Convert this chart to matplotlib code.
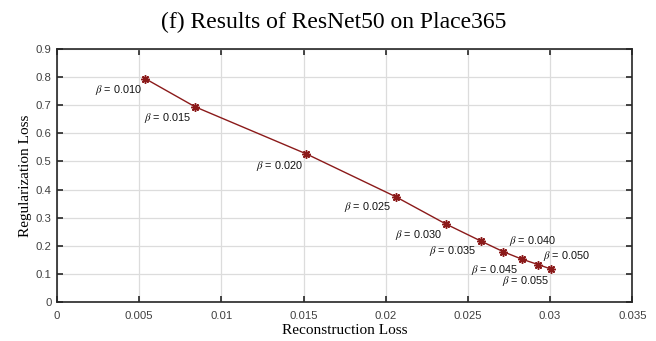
import matplotlib
matplotlib.use("Agg")
import matplotlib.pyplot as plt

recon_loss = [0.00538, 0.0084, 0.01517, 0.0206, 0.02366, 0.02578, 0.02716, 0.02827, 0.02929, 0.03005]
reg_loss = [0.795, 0.695, 0.527, 0.3745, 0.277, 0.2165, 0.178, 0.152, 0.132, 0.1166]
beta_labels = ["0.010", "0.015", "0.020", "0.025", "0.030", "0.035", "0.040", "0.045", "0.050", "0.055"]
label_x = [0.00233, 0.0053, 0.01209, 0.01746, 0.02056, 0.02264, 0.0275, 0.02516, 0.02957, 0.02706]
label_y = [0.755, 0.656, 0.485, 0.3367, 0.238, 0.181, 0.2154, 0.113, 0.162, 0.075]
xticks = [0, 0.005, 0.01, 0.015, 0.02, 0.025, 0.03, 0.035]
xticklabels = ["0", "0.005", "0.01", "0.015", "0.02", "0.025", "0.03", "0.035"]
yticks = [0, 0.1, 0.2, 0.3, 0.4, 0.5, 0.6, 0.7, 0.8, 0.9]
yticklabels = ["0", "0.1", "0.2", "0.3", "0.4", "0.5", "0.6", "0.7", "0.8", "0.9"]

plt.rcParams['mathtext.fontset'] = 'stix'
sans = ['Liberation Sans', 'DejaVu Sans']
serif = ['Liberation Serif', 'DejaVu Serif']

W, H = 656, 341
fig = plt.figure(figsize=(6.56, 3.41), dpi=100)
ax = fig.add_axes([57/W, 1 - 301.7/H, (632.3 - 57) / W, (301.7 - 49.3) / H])

color = '#8b1a1a'
ax.plot(recon_loss, reg_loss, '-', color=color, lw=1.0, marker=(8, 2, 0), ms=6, mew=1.1, mec=color, zorder=3)

for x, y, b in zip(label_x, label_y, beta_labels):
    ax.text(x, y, r'$\beta$' + ' = ' + b, ha='left', va='center', fontsize=7.8, family=sans, color='#111111')

ax.set_xlim(0, 0.035)
ax.set_ylim(0, 0.9)
ax.set_xticks(xticks)
ax.set_xticklabels(xticklabels, family=sans, fontsize=8.2)
ax.set_yticks(yticks)
ax.set_yticklabels(yticklabels, family=sans, fontsize=8.2)
ax.tick_params(direction='in', length=4, width=1.2, top=True, right=True, colors='#262626', labelcolor='#404040')
ax.tick_params(axis='x', pad=7)
ax.tick_params(axis='y', pad=4)
ax.grid(True, color='#dcdcdc', lw=0.9)
ax.set_axisbelow(True)
for s in ax.spines.values():
    s.set_color('#262626')
    s.set_linewidth(1.2)

ax.set_xlabel('Reconstruction Loss', family=serif, fontsize=11, labelpad=2)
ax.set_ylabel('Regularization Loss', family=serif, fontsize=11)
ax.yaxis.set_label_coords(-0.044, 0.5)
fig.text(334/W, 1 - 28.5/H, '(f) Results of ResNet50 on Place365', family=serif, fontsize=17,
         ha='center', va='baseline')

fig.savefig('out.png', dpi=100)
